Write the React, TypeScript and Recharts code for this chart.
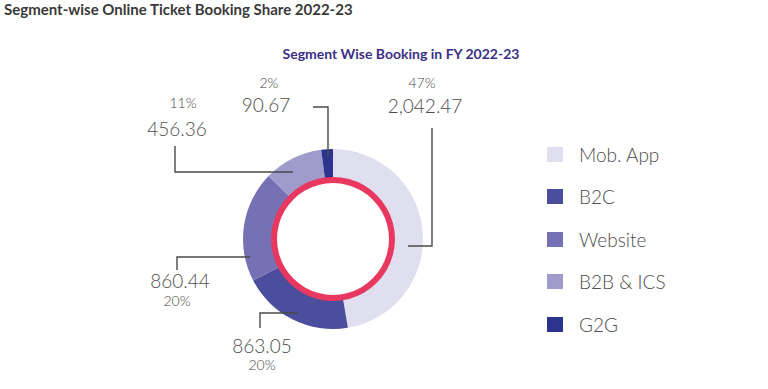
import React from 'react';
import { PieChart, Pie, Cell, Legend } from 'recharts';

const SEGMENTS = ['Mob. App', 'B2C', 'Website', 'B2B & ICS', 'G2G'];
const BOOKINGS = [2042.47, 863.05, 860.44, 456.36, 90.67];
const COLORS = ['#e0dfef', '#4a4e9c', '#7571b4', '#9f9bcb', '#2c3490'];
const RING = [1];

const TITLE = 'Segment-wise Online Ticket Booking Share 2022-23';
const SUBTITLE = 'Segment Wise Booking in FY 2022-23';

const data = SEGMENTS.map((name, i) => ({ name, value: BOOKINGS[i] }));
const ringData = RING.map((v) => ({ name: 'ring', value: v }));

// label layout offsets relative to the pie centre
const LABEL_LAYOUT = [
  { line: [[75, 7], [99, 7], [99, -111]], value: [92, -126], pct: [89, -151] },
  { line: [[-35, 74], [-73, 74], [-73, 89]], value: [-71, 114], pct: [-71, 131] },
  { line: [[-83, 18], [-156, 18], [-156, 31]], value: [-153, 49], pct: [-156, 67] },
  { line: [[-158, -93], [-158, -67], [-40, -67]], value: [-156, -103], pct: [-150, -131] },
  { line: [[-20, -132], [-5, -132], [-5, -82]], value: [-67, -127], pct: [-64, -151] },
];

const FONT = 'Lato, "Open Sans", sans-serif';

const fmt = (v: number) =>
  v.toLocaleString('en-US', { minimumFractionDigits: 2, maximumFractionDigits: 2 });

const renderLabel = (props: any) => {
  const { cx, cy, index, value, percent } = props;
  const L = LABEL_LAYOUT[index];
  const pts = L.line.map(([dx, dy]) => `${cx + dx},${cy + dy}`).join(' ');
  return (
    <g key={`lbl-${index}`}>
      <polyline points={pts} fill="none" stroke="#4a4a4a" strokeWidth={1.4} />
      <text x={cx + L.value[0]} y={cy + L.value[1]} textAnchor="middle" fontSize={19} fill="#4d4d4d" fontFamily={FONT} fontWeight={300}>
        {fmt(value)}
      </text>
      <text x={cx + L.pct[0]} y={cy + L.pct[1]} textAnchor="middle" fontSize={14} fill="#444" fontFamily={FONT} fontWeight={300}>
        {Math.round(percent * 100)}%
      </text>
    </g>
  );
};

const renderLegend = () => (
  <div style={{ fontFamily: FONT }}>
    {SEGMENTS.map((s, i) => (
      <div key={s} style={{ display: 'flex', alignItems: 'center', height: 42.5 }}>
        <div style={{ width: 16, height: 15, background: COLORS[i], marginRight: 16 }} />
        <span style={{ fontSize: 19, color: '#4d4d4d', fontWeight: 300 }}>{s}</span>
      </div>
    ))}
  </div>
);

export default function App() {
  return (
    <div style={{ position: 'absolute', left: 0, top: 0, width: 768, height: 389, background: '#fff' }}>
      <PieChart width={768} height={389} margin={{ top: 0, right: 0, bottom: 0, left: 0 }}>
        <Pie
          data={data}
          dataKey="value"
          nameKey="name"
          cx={333}
          cy={239}
          innerRadius={60}
          outerRadius={90}
          startAngle={90}
          endAngle={-270}
          stroke="none"
          label={renderLabel}
          labelLine={false}
          isAnimationActive={false}
        >
          {data.map((d, i) => (
            <Cell key={d.name} fill={COLORS[i]} />
          ))}
        </Pie>
        <Pie
          data={ringData}
          dataKey="value"
          cx={333}
          cy={239}
          innerRadius={56}
          outerRadius={62}
          stroke="none"
          fill="#e8385f"
          isAnimationActive={false}
        />
        <Legend
          layout="vertical"
          align="right"
          verticalAlign="middle"
          content={renderLegend}
          wrapperStyle={{ position: 'absolute', left: 547, top: 133, width: 180 }}
        />
      </PieChart>
      <svg width={768} height={389} style={{ position: 'absolute', left: 0, top: 0, pointerEvents: 'none' }}>
        <text x={4} y={15} fontSize={15} fontWeight={700} fill="#3a3a3a" fontFamily={FONT}>
          {TITLE}
        </text>
        <text x={401} y={59} textAnchor="middle" fontSize={14} fontWeight={700} fill="#3b2f85" fontFamily={FONT}>
          {SUBTITLE}
        </text>
      </svg>
    </div>
  );
}
